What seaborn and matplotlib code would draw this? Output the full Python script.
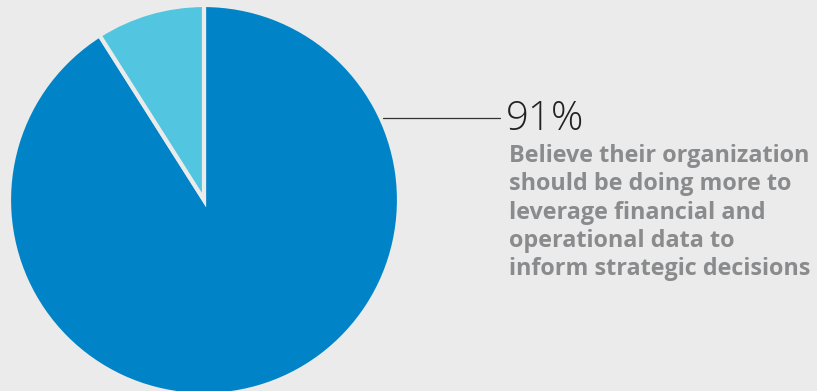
import matplotlib
matplotlib.use("Agg")
import matplotlib.pyplot as plt
import seaborn as sns
from matplotlib.lines import Line2D

labels = ["Should do more", "Other"]
values = [91, 9]
colors = ["#0084c7", "#52c6e0"]
headline = "91%"
description_lines = ["Believe their organization", "should be doing more to",
                     "leverage financial and", "operational data to",
                     "inform strategic decisions"]

sns.set_style("white")
plt.rcParams["font.family"] = ["Open Sans", "DejaVu Sans"]

W, H = 817, 391
bg = "#ebebeb"
fig = plt.figure(figsize=(W / 100, H / 100), dpi=100)
fig.patch.set_facecolor(bg)

cx, cy, r = 204, 200, 195
ax = fig.add_axes([(cx - r) / W, (H - cy - r) / H, 2 * r / W, 2 * r / H])
ax.set_facecolor("none")
ax.pie(values, colors=colors, startangle=90, counterclock=False, radius=1,
       wedgeprops=dict(edgecolor=bg, linewidth=3))
ax.set_xlim(-1, 1)
ax.set_ylim(-1, 1)
ax.set_aspect("equal")
ax.axis("off")

ly = H - 118
fig.add_artist(Line2D([383 / W, 500 / W], [ly / H, ly / H], color="#333333", lw=0.9))
fig.text(506 / W, (H - 130) / H, headline, fontsize=29, fontweight="light",
         color="#222222", va="baseline", ha="left")
for i, line in enumerate(description_lines):
    fig.text(509 / W, (H - 162 - 28.3 * i) / H, line, fontsize=16.8, fontweight="bold",
             color="#8a8b8d", va="baseline", ha="left")

fig.savefig("out.png", dpi=100, facecolor=fig.get_facecolor())
